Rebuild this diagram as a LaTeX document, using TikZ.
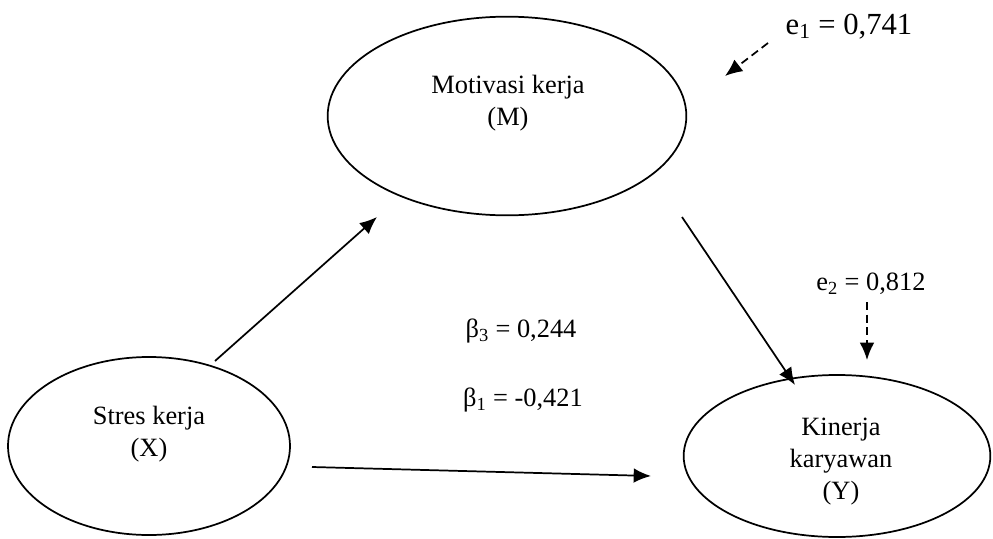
\documentclass[tikz,border=0pt]{standalone}
\usepackage{fontspec}
\setmainfont{Liberation Serif}
\usetikzlibrary{shapes.geometric,arrows.meta}

\tikzset{
  latent/.style={draw, ellipse, line width=1.3pt, inner sep=0pt},
  varname/.style={align=center, inner sep=0.75pt, font=\fontsize{19.8}{24}\selectfont},
  coef/.style={inner sep=0.75pt, font=\fontsize{19.8}{24}\selectfont},
  path/.style={line width=1.3pt, -{Latex[length=13pt,width=11pt]}},
  errpath/.style={line width=1.3pt, dash pattern={on 6pt off 3.5pt}, -{Latex[length=13pt,width=11pt]}}
}

\begin{document}
\begin{tikzpicture}[x=0.75pt,y=0.75pt,yscale=-1,xscale=1]
\useasboundingbox (0,0) rectangle (993,539);

%Ellipses
\node [latent, minimum width=269pt, minimum height=149pt] (M) at (507,116) {};
\node [latent, minimum width=211.5pt, minimum height=133.5pt] (X) at (149,446) {};
\node [latent, minimum width=230pt, minimum height=121.5pt] (Y) at (837,456) {};

% Text Node
\node [varname] (Mtext) at (508,103) {Motivasi kerja\\(M)};
% Text Node
\node [varname] (Xtext) at (149,434) {Stres kerja\\(X)};
% Text Node
\node [varname] (Ytext) at (841,462) {Kinerja\\karyawan\\(Y)};

%Arrow ends
\coordinate (xm0) at (215,361);
\coordinate (xm1) at (377,217);
\coordinate (my0) at (682,217);
\coordinate (my1) at (795,385);
\coordinate (xy0) at (312,467);
\coordinate (xy1) at (651,476);
\coordinate (e10) at (768,43);
\coordinate (e11) at (725,76);
\coordinate (e20) at (867,302);
\coordinate (e21) at (867,360);

%Straight Lines
\draw [path] (xm0) -- (xm1);
\draw [path] (my0) -- (my1);
\draw [path] (xy0) -- (xy1);
%Dashed Lines
\draw [errpath] (e10) -- (e11);
\draw [errpath] (e20) -- (e21);

% Text Node
\node [coef, anchor=base, font=\fontsize{23}{27}\selectfont] (e1) at (849,34) {e\textsubscript{1} = 0,741};
% Text Node
\node [coef, anchor=base] (e2) at (871,290) {e\textsubscript{2} = 0,812};
% Text Node
\node [coef, anchor=base] (b3) at (521,337) {β\textsubscript{3} = 0,244};
% Text Node
\node [coef, anchor=base] (b1) at (523,406) {β\textsubscript{1} = -0,421};
\end{tikzpicture}
\end{document}
